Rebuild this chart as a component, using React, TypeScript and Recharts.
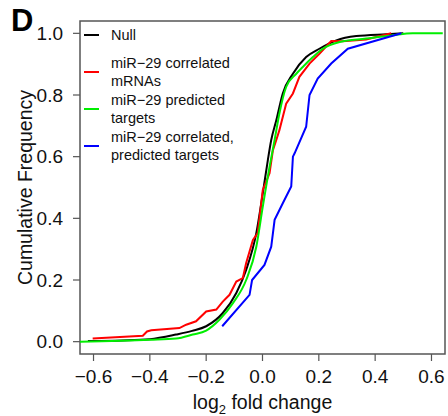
import React from "react"
import { LineChart, Line, XAxis, YAxis, ReferenceArea, Legend } from "recharts"

const FONT = '"Liberation Sans", Arial, Helvetica, sans-serif'

// log2 fold change (x) vs cumulative frequency (y)
const nullX = [-0.62, -0.5, -0.4, -0.307, -0.25, -0.2, -0.141, -0.093, -0.058, -0.022, 0.001, 0.019, 0.031, 0.049, 0.072, 0.108, 0.155, 0.202, 0.262, 0.333, 0.44, 0.5]
const nullY = [0.002, 0.004, 0.008, 0.023, 0.035, 0.05, 0.093, 0.158, 0.233, 0.352, 0.481, 0.589, 0.654, 0.718, 0.805, 0.869, 0.923, 0.95, 0.977, 0.991, 0.997, 1.0]

const corrX = [-0.603, -0.425, -0.41, -0.395, -0.295, -0.271, -0.236, -0.2, -0.164, -0.141, -0.117, -0.093, -0.07, -0.058, -0.034, -0.017, 0.001, 0.025, 0.037, 0.049, 0.06, 0.084, 0.108, 0.131, 0.167, 0.202, 0.244, 0.285, 0.368, 0.457]
const corrY = [0.01, 0.019, 0.033, 0.037, 0.044, 0.055, 0.066, 0.098, 0.104, 0.13, 0.152, 0.195, 0.206, 0.255, 0.33, 0.352, 0.492, 0.546, 0.621, 0.654, 0.686, 0.772, 0.805, 0.859, 0.902, 0.934, 0.975, 0.974, 0.98, 1.0]

const predX = [-0.65, -0.4, -0.307, -0.248, -0.2, -0.153, -0.105, -0.058, -0.022, 0.001, 0.025, 0.043, 0.06, 0.084, 0.12, 0.143, 0.179, 0.214, 0.274, 0.368, 0.463, 0.533, 0.64]
const predY = [0.0, 0.006, 0.01, 0.023, 0.036, 0.071, 0.125, 0.2, 0.308, 0.438, 0.567, 0.654, 0.74, 0.826, 0.869, 0.891, 0.923, 0.95, 0.972, 0.983, 0.994, 1.0, 1.0]

const bothX = [-0.143, -0.046, -0.037, 0.007, 0.031, 0.043, 0.072, 0.102, 0.108, 0.114, 0.155, 0.167, 0.196, 0.244, 0.303, 0.493]
const bothY = [0.05, 0.152, 0.2, 0.249, 0.308, 0.395, 0.449, 0.503, 0.6, 0.611, 0.697, 0.8, 0.853, 0.902, 0.95, 1.0]

const xTicks = [-0.6, -0.4, -0.2, 0, 0.2, 0.4, 0.6]
const yTicks = [0, 0.2, 0.4, 0.6, 0.8, 1.0]

const seriesNames = ["Null", "miR−29 correlated\nmRNAs", "miR−29 predicted\ntargets", "miR−29 correlated,\npredicted targets"]
const seriesColors = ["#000000", "#ff0000", "#00ee00", "#0000ff"]
// null and predicted curves are smooth in the figure, the other two are stepped
const seriesCurve = ["monotoneX", "linear", "monotoneX", "linear"]

const toPoints = (xs: number[], ys: number[]) => xs.map((x, i) => ({ x, y: ys[i] }))
const series = [toPoints(nullX, nullY), toPoints(corrX, corrY), toPoints(predX, predY), toPoints(bothX, bothY)]

// R-style 4% axis expansion
const xDomain = [-0.648, 0.648]
const yDomain = [-0.04, 1.04]

const fmt = (v: number) => (v < 0 ? "\u2212" + Math.abs(v).toFixed(1) : v.toFixed(1))

const renderLegend = () => (
  <div style={{ fontFamily: FONT, fontSize: 14.5, color: "#111" }}>
    {seriesNames.map((name, i) => (
      <div key={i} style={{ height: 37, display: "flex", alignItems: "center" }}>
        <span style={{ display: "inline-block", width: 15, height: 2, background: seriesColors[i], marginRight: 12 }} />
        <span style={{ whiteSpace: "pre-line", lineHeight: "18.5px" }}>{name}</span>
      </div>
    ))}
  </div>
)

export default function App() {
  return (
    <div style={{ position: "absolute", left: 0, top: 0, width: 448, height: 416, background: "#fff" }}>
      <div style={{ position: "absolute", left: 11, top: 0, fontFamily: FONT, fontWeight: 700, fontSize: 31, lineHeight: "42px", color: "#000" }}>
        D
      </div>
      <LineChart width={448} height={416} margin={{ top: 21, right: 3, bottom: 0, left: 0 }}>
        <XAxis
          type="number"
          dataKey="x"
          domain={xDomain}
          ticks={xTicks}
          tickFormatter={fmt}
          allowDataOverflow
          axisLine={false}
          tickLine={{ stroke: "#555", strokeWidth: 1.2 }}
          tickSize={7}
          tickMargin={9}
          height={62}
          tick={{ fill: "#111", fontSize: 19, fontFamily: FONT }}
          label={{
            content: (p: any) => {
              const vb = p.viewBox
              return (
                <text x={vb.x + vb.width / 2} y={vb.y + 55} textAnchor="middle" fontSize={19.5} fontFamily={FONT} fill="#111">
                  log
                  <tspan fontSize={13} dy={5}>2</tspan>
                  <tspan dy={-5}> fold change</tspan>
                </text>
              )
            },
          }}
        />
        <YAxis
          type="number"
          dataKey="y"
          domain={yDomain}
          ticks={yTicks}
          tickFormatter={(v: number) => v.toFixed(1)}
          allowDataOverflow
          axisLine={false}
          tickLine={{ stroke: "#555", strokeWidth: 1.2 }}
          tickSize={7}
          tickMargin={10}
          width={80}
          tick={{ fill: "#111", fontSize: 19, fontFamily: FONT }}
          label={{
            content: (p: any) => {
              const vb = p.viewBox
              const cy = vb.y + vb.height / 2
              return (
                <text x={32} y={cy} transform={`rotate(-90, 32, ${cy})`} textAnchor="middle" fontSize={19.5} fontFamily={FONT} fill="#111">
                  Cumulative Frequency
                </text>
              )
            },
          }}
        />
        <ReferenceArea
          x1={xDomain[0]}
          x2={xDomain[1]}
          y1={yDomain[0]}
          y2={yDomain[1]}
          fill="none"
          stroke="#555"
          strokeWidth={1.5}
          ifOverflow="visible"
        />
        {series.map((pts, i) => (
          <Line
            key={i}
            data={pts}
            dataKey="y"
            name={seriesNames[i]}
            type={seriesCurve[i] as any}
            stroke={seriesColors[i]}
            strokeWidth={2}
            dot={false}
            activeDot={false}
            isAnimationActive={false}
          />
        ))}
        <Legend
          layout="vertical"
          align="center"
          verticalAlign="middle"
          content={renderLegend}
          wrapperStyle={{ top: 16.5, left: 84, width: 200 }}
        />
      </LineChart>
    </div>
  )
}
